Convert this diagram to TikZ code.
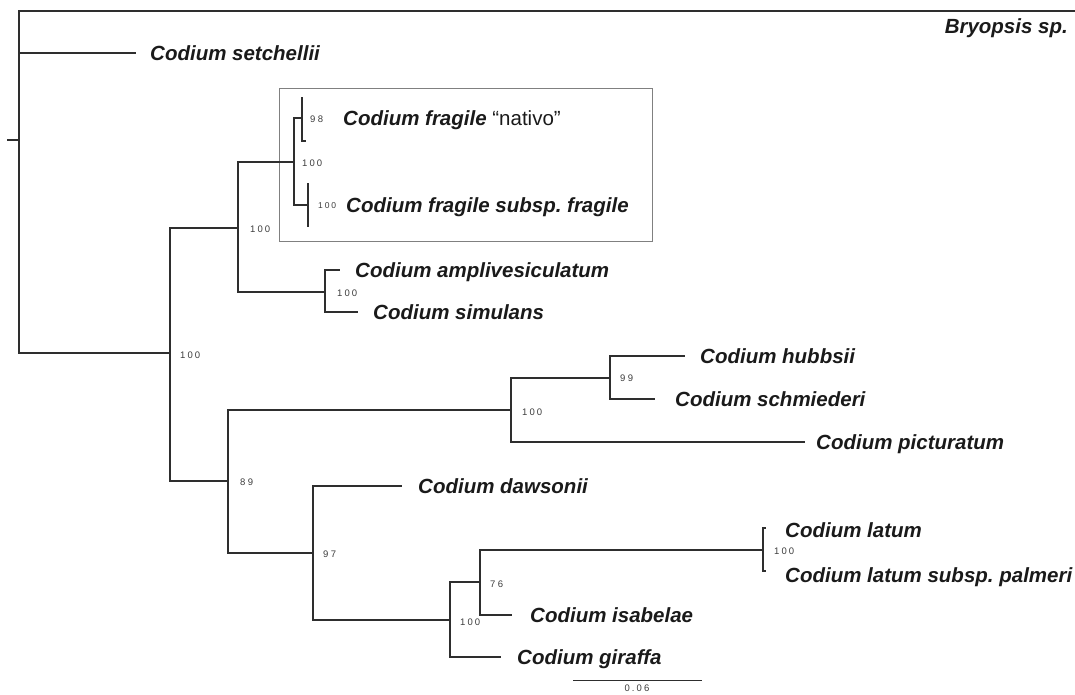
\documentclass[tikz,border=0pt]{standalone}
\usepackage{fontspec}
\newfontfamily\arialf{Liberation Sans}
\newfontfamily\supf[LetterSpace=22]{Liberation Sans}
\usetikzlibrary{positioning}
\definecolor{treeline}{HTML}{2E2E2E}
\definecolor{txt}{HTML}{1A1A1A}
\definecolor{boxgray}{HTML}{808080}
\begin{document}
\begin{tikzpicture}[x=1pt,y=-1pt,
  branch/.style={draw=treeline,line width=1.6pt},
  leaf/.style={font=\arialf\bfseries\itshape\fontsize{20.5}{24}\selectfont,text=txt,inner sep=0pt,anchor=base west},
  supp/.style={font=\supf\fontsize{9.5}{11}\selectfont,text=txt!85,inner sep=0pt,anchor=west},
  boxst/.style={draw=boxgray,line width=0.9pt,inner sep=0pt}]
\useasboundingbox (0,0) rectangle (1075,694);
% internal coordinates
\coordinate (r0) at (7,140);
\coordinate (r) at (19,140);
\coordinate (bry) at (1075,11);
\coordinate (set) at (136,53);
\coordinate (n1) at (170,353);
\coordinate (n2) at (238,228);
\coordinate (n3) at (294,162);
\coordinate (n98) at (302,118);
\coordinate (fn1) at (302,97);
\coordinate (fn2) at (306,141);
\coordinate (nfr) at (308,205);
\coordinate (ff1) at (308,183);
\coordinate (ff2) at (308,227);
\coordinate (n4) at (325,292);
\coordinate (amp) at (340,270);
\coordinate (sim) at (358,312);
\coordinate (n5) at (228,481);
\coordinate (n6) at (511,410);
\coordinate (n7) at (610,378);
\coordinate (hub) at (685,356);
\coordinate (sch) at (655,399);
\coordinate (pic) at (805,442);
\coordinate (n8) at (313,553);
\coordinate (daw) at (402,486);
\coordinate (n9) at (450,620);
\coordinate (n10) at (480,582);
\coordinate (n11) at (763,550);
\coordinate (lat) at (766,528);
\coordinate (pal) at (766,571);
\coordinate (isa) at (512,615);
\coordinate (gir) at (501,657);
\coordinate (sb1) at (573,680);
\coordinate (sb2) at (702,680);
% box
\node[boxst,minimum width=373pt,minimum height=153pt] (box) at (465.5,164.5) {};
% branches
\draw[branch] (r0) -- (r);
\draw[branch] (r) |- (bry);
\draw[branch] (r) |- (set);
\draw[branch] (r) |- (n1);
\draw[branch] (n1) |- (n2);
\draw[branch] (n1) |- (n5);
\draw[branch] (n2) |- (n3);
\draw[branch] (n2) |- (n4);
\draw[branch] (n3) |- (n98);
\draw[branch] (n3) |- (nfr);
\draw[branch] (n98) |- (fn1);
\draw[branch] (n98) |- (fn2);
\draw[branch] (nfr) |- (ff1);
\draw[branch] (nfr) |- (ff2);
\draw[branch] (n4) |- (amp);
\draw[branch] (n4) |- (sim);
\draw[branch] (n5) |- (n6);
\draw[branch] (n5) |- (n8);
\draw[branch] (n6) |- (n7);
\draw[branch] (n6) |- (pic);
\draw[branch] (n7) |- (hub);
\draw[branch] (n7) |- (sch);
\draw[branch] (n8) |- (daw);
\draw[branch] (n8) |- (n9);
\draw[branch] (n9) |- (n10);
\draw[branch] (n9) |- (gir);
\draw[branch] (n10) |- (n11);
\draw[branch] (n10) |- (isa);
\draw[branch] (n11) |- (lat);
\draw[branch] (n11) |- (pal);
\draw[draw=treeline,line width=1pt] (sb1) -- (sb2);
% taxon labels
\node[leaf,anchor=base east] (tbry) at (1068,33) {Bryopsis sp.};
\node[leaf] (tset) at (150,60) {Codium setchellii};
\node[leaf] (tnat) at (343,125) {Codium fragile {\mdseries\upshape “nativo”}};
\node[leaf] (tfra) at (346,212) {Codium fragile subsp.\ fragile};
\node[leaf] (tamp) at (355,277) {Codium amplivesiculatum};
\node[leaf] (tsim) at (373,319) {Codium simulans};
\node[leaf] (thub) at (700,363) {Codium hubbsii};
\node[leaf] (tsch) at (675,406) {Codium schmiederi};
\node[leaf] (tpic) at (816,449) {Codium picturatum};
\node[leaf] (tdaw) at (418,493) {Codium dawsonii};
\node[leaf] (tlat) at (785,537) {Codium latum};
\node[leaf] (tpal) at (785,582) {Codium latum subsp.\ palmeri};
\node[leaf] (tisa) at (530,622) {Codium isabelae};
\node[leaf] (tgir) at (517,664) {Codium giraffa};
% support values
\node[supp] (s1) at (180,355) {100};
\node[supp] (s2) at (250,229) {100};
\node[supp] (s3) at (302,163) {100};
\node[supp] (s98) at (310,119) {9\hspace{2.5pt}8};
\node[supp,font=\supf\fontsize{8.5}{10}\selectfont] (sfr) at (318,206) {100};
\node[supp] (s4) at (337,293) {100};
\node[supp] (s89) at (240,482) {8\hspace{2.5pt}9};
\node[supp] (s6) at (522,412) {100};
\node[supp] (s99) at (620,378) {9\hspace{2.5pt}9};
\node[supp] (s97) at (323,554) {9\hspace{2.5pt}7};
\node[supp] (s9) at (460,622) {100};
\node[supp] (s76) at (490,584) {7\hspace{2.5pt}6};
\node[supp] (s11) at (774,551) {100};
\node[supp,anchor=center] (sbl) at (637,688) {0.06};
\end{tikzpicture}
\end{document}
